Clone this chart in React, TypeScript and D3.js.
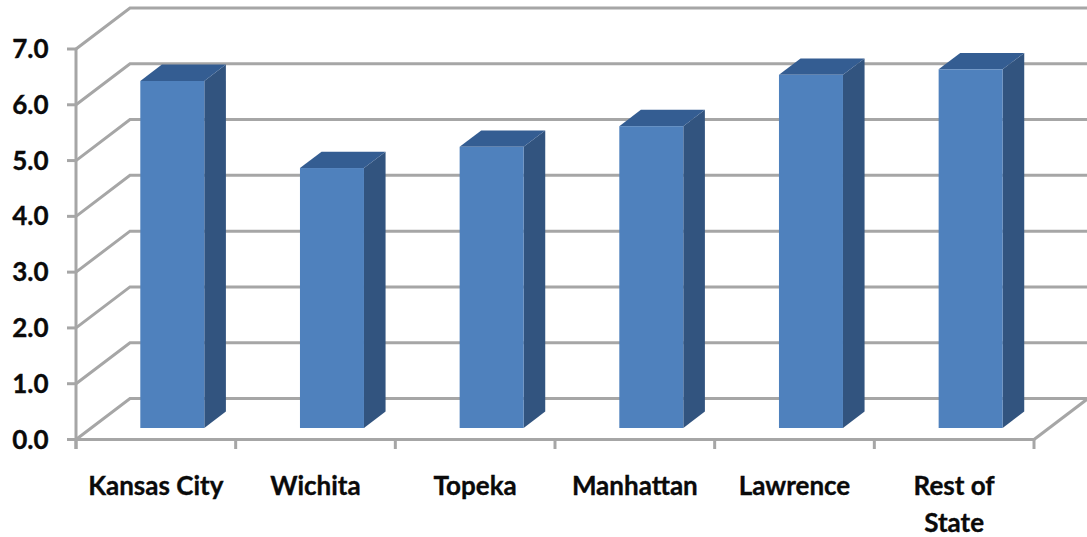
import React from "react";
import * as d3 from "d3";

const categories = ["Kansas City", "Wichita", "Topeka", "Manhattan", "Lawrence", "Rest of|State"];
const values = [6.22, 4.66, 5.04, 5.41, 6.33, 6.43];
const yTicks = [0, 1, 2, 3, 4, 5, 6, 7];

const W = 1087, H = 537;
const x = d3.scaleBand<string>().domain(categories).range([76, 1034]).paddingInner(0).paddingOuter(0);
const y = d3.scaleLinear().domain([0, 7]).range([439.5, 49]);
const depthX = d3.scaleLinear().domain([0, 1]).range([0, 54]);
const depthY = d3.scaleLinear().domain([0, 1]).range([0, -41]);
const barW = 64;
const FRONT = 0.305, BACK = 0.705;
const GRID = "#a6a6a6";

export default function App() {
  const font = "Lato, 'Open Sans', sans-serif";
  const x0 = 76, x1 = 1034;
  const edges = [...categories.map((c) => x(c)!), x1];
  const textStyle = { stroke: "#0a0a0a", strokeWidth: 0.35 };
  return (
    <svg width={W} height={H} style={{ position: "absolute", left: 0, top: 0, background: "#fff" }}>
      {yTicks.map((t) => (
        <g key={t}>
          <polyline
            fill="none" stroke={GRID} strokeWidth={3}
            points={`${x0},${y(t)} ${x0 + depthX(1)},${y(t) + depthY(1)} ${W},${y(t) + depthY(1)}`}
          />
          <line x1={67} x2={x0} y1={y(t)} y2={y(t)} stroke={GRID} strokeWidth={3} />
          <text x={48.5} y={y(t) + 9} textAnchor="end" fontFamily={font} fontWeight={700} fontSize={26} fill="#0a0a0a" style={textStyle}>
            {t.toFixed(1)}
          </text>
        </g>
      ))}
      <line x1={x0} x2={x0} y1={y(7) - 1} y2={449} stroke={GRID} strokeWidth={3} />
      <line x1={x0} x2={x1} y1={y(0)} y2={y(0)} stroke={GRID} strokeWidth={3} />
      <line x1={x1} x2={W} y1={y(0)} y2={y(0) + (W - x1) / 54 * -41} stroke={GRID} strokeWidth={3} />
      {edges.map((e, i) => (
        <line key={i} x1={e} x2={e} y1={y(0)} y2={449} stroke={GRID} strokeWidth={3} />
      ))}
      {categories.map((c, i) => {
        const cx = x(c)! + x.bandwidth() / 2;
        const l = cx - barW / 2 + depthX(FRONT);
        const r = l + barW;
        const base = y(0) + depthY(FRONT) + 1;
        const top = base - (y(0) - y(values[i]));
        const dx = depthX(BACK - FRONT);
        const dy = depthY(BACK - FRONT);
        const lines = c.split("|");
        return (
          <g key={c}>
            <polygon points={`${r},${top} ${r + dx},${top + dy} ${r + dx},${base + dy} ${r},${base}`} fill="#32547f" />
            <polygon points={`${l},${top} ${l + dx},${top + dy} ${r + dx},${top + dy} ${r},${top}`} fill="#345d92" />
            <rect x={l} y={top} width={barW} height={base - top} fill="#4f81bd" />
            {lines.map((t, j) => (
              <text key={j} x={cx} y={494.5 + j * 37} textAnchor="middle" fontFamily={font} fontWeight={700} fontSize={26} fill="#0a0a0a" style={textStyle}>
                {t}
              </text>
            ))}
          </g>
        );
      })}
    </svg>
  );
}
